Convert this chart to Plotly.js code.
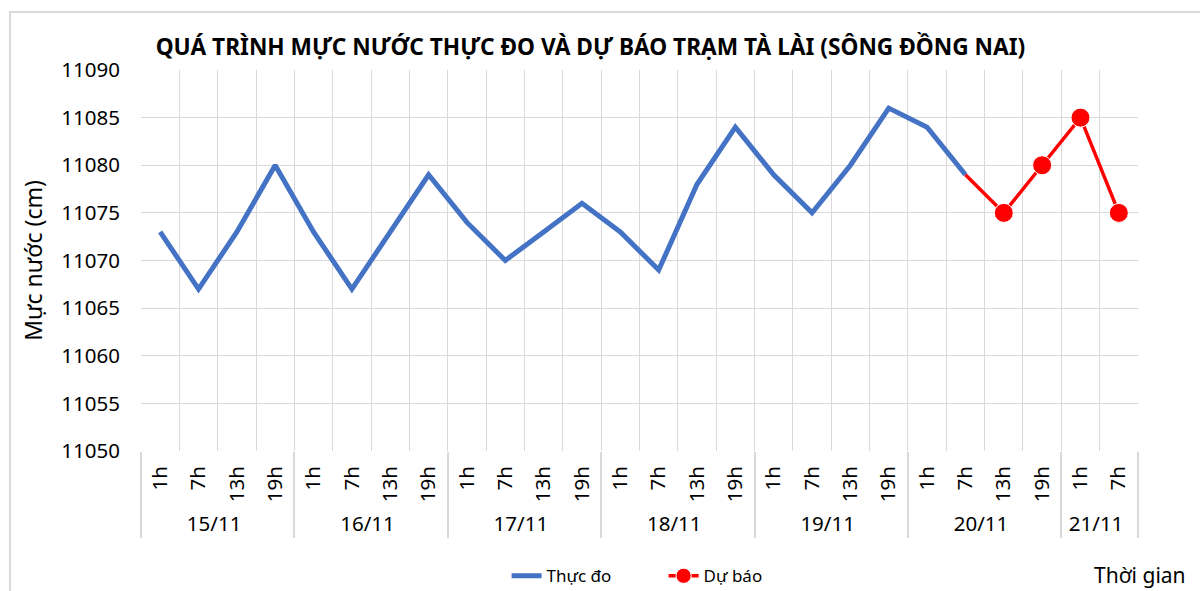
<!DOCTYPE html>
<html><head><meta charset="utf-8">
<script src="https://cdn.plot.ly/plotly-3.0.1.min.js"></script>
<style>
html,body{margin:0;padding:0;background:#fff;overflow:hidden;}
#chart{width:1200px;height:591px;}
#frame{position:absolute;left:9px;top:11px;width:1300px;height:700px;border:2px solid #d9d9d9;pointer-events:none;}
</style></head>
<body>
<div id="chart"></div>
<div id="frame"></div>
<script>
const days  = ['15/11','15/11','15/11','15/11','16/11','16/11','16/11','16/11','17/11','17/11','17/11','17/11','18/11','18/11','18/11','18/11','19/11','19/11','19/11','19/11','20/11','20/11','20/11','20/11','21/11','21/11'];
const hours = ['1h','7h','13h','19h','1h','7h','13h','19h','1h','7h','13h','19h','1h','7h','13h','19h','1h','7h','13h','19h','1h','7h','13h','19h','1h','7h'];
const observed = [11073,11067,11073,11080, 11073,11067,11073,11079, 11074,11070,11073,11076, 11073,11069,11078,11084, 11079,11075,11080,11086, 11084,11079,null,null, null,null];
const forecastDays  = ['20/11','20/11','20/11','21/11','21/11'];
const forecastHours = ['7h','13h','19h','1h','7h'];
const forecast = [11079,11075,11080,11085,11075];

const FONT = 'Noto Sans, Open Sans, sans-serif';

const traces = [
  {x:[days,hours], y:observed, type:'scatter', mode:'lines', name:'Thực đo',
   line:{color:'#4472C4', width:5}, connectgaps:false, xaxis:'x', yaxis:'y'},
  {x:[forecastDays,forecastHours], y:forecast, type:'scatter', mode:'lines+markers', name:'Dự báo',
   line:{color:'#FF0000', width:3.5}, marker:{color:'#FF0000', opacity:1, size:[0,19,19,19,19]}, xaxis:'x', yaxis:'y'},
  {x:[], y:[], type:'scatter', xaxis:'x2', yaxis:'y', showlegend:false, hoverinfo:'skip'}
];

const layout = {
  width:1200, height:591,
  margin:{l:141, r:62, t:70, b:140, autoexpand:false},
  paper_bgcolor:'rgba(0,0,0,0)', plot_bgcolor:'#fff',
  font:{family:FONT, color:'#000'},
  title:{text:'<b>QUÁ TRÌNH MỰC NƯỚC THỰC ĐO VÀ DỰ BÁO TRẠM TÀ LÀI (SÔNG ĐỒNG NAI)</b>',
         font:{family:FONT, size:22.7, color:'#000'}, x:0.492, xanchor:'center', y:0.92, yanchor:'middle'},
  xaxis:{type:'multicategory', range:[-0.5,25.5], showgrid:true, gridcolor:'#d9d9d9', gridwidth:1,
         tickangle:-90, tickfont:{family:FONT, size:20.5, color:'#000'}, ticks:'outside', ticklen:20,
         tickcolor:'rgba(0,0,0,0)', ticklabelstandoff:10,
         showdividers:true, dividercolor:'#d9d9d9', dividerwidth:2,
         showline:false, zeroline:false, automargin:false},
  xaxis2:{overlaying:'x', anchor:'y', range:[-0.5,25.5], tick0:-0.5, dtick:1, showgrid:true, gridcolor:'#d9d9d9',
          gridwidth:1, showticklabels:false, ticks:'', zeroline:false, showline:false},
  yaxis:{range:[11050,11090], dtick:5, tickformat:'d', showgrid:true, gridcolor:'#d9d9d9', gridwidth:1, zeroline:false,
         tickfont:{family:FONT, size:20.5, color:'#000'}, ticks:'', ticklabelstandoff:20, automargin:false,
         title:{text:'Mực nước (cm)', font:{family:FONT, size:23, color:'#000'}, standoff:12}},
  legend:{orientation:'h', xref:'container', yref:'container', x:0.553, xanchor:'center', y:0.025, yanchor:'middle',
          entrywidth:112, entrywidthmode:'pixels', font:{family:FONT, size:17, color:'#000'}},
  annotations:[{text:'Thời gian', xref:'paper', yref:'paper', x:1.05, y:-0.325, xanchor:'right', yanchor:'middle',
                showarrow:false, font:{family:FONT, size:21, color:'#000'}}]
};

Plotly.newPlot('chart', traces, layout, {displayModeBar:false, staticPlot:true});
</script>
</body></html>
